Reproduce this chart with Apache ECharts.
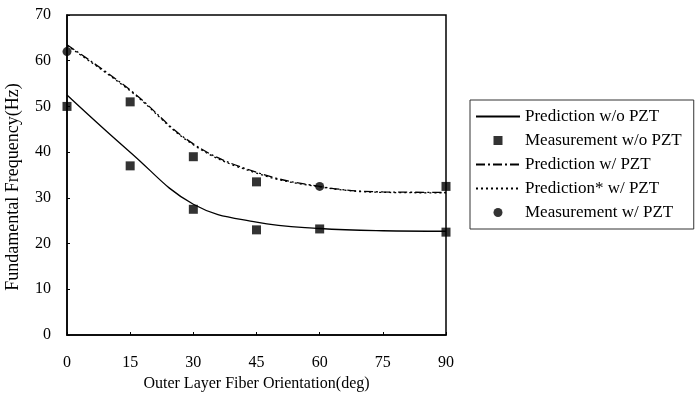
<!DOCTYPE html>
<html>
<head>
<meta charset="utf-8">
<script src="https://cdn.jsdelivr.net/npm/echarts@6/dist/echarts.min.js"></script>
<style>
    html, body { margin: 0; padding: 0; background: #fff; }
    #chart { width: 696px; height: 403px; }
</style>
</head>
<body>
<div id="chart"></div>
<script>
// fiber orientation (deg)
const angles = [0, 15, 30, 45, 60, 75, 90];
const measAngles = [0, 15, 30, 45, 60, 90];

// frequencies (Hz)
const predNoPzt = [52.5, 40.0, 28.6, 24.7, 23.3, 22.8, 22.7];
const measNoPzt = [50.0, 37.0, 27.5, 23.0, 23.2, 22.5];
const predPzt = [63.5, 53.6, 41.8, 35.6, 32.5, 31.3, 31.2];
const predStarPzt = [63.3, 53.4, 41.6, 35.4, 32.4, 31.2, 31.1];
const measPzt = [62.0, 51.0, 39.0, 33.5, 32.5, 32.5];

const yTicks = [0, 10, 20, 30, 40, 50, 60, 70];

const font = "Liberation Serif";
const pairs = (xs, ys) => xs.map((x, i) => [x, ys[i]]);
// line icons in the legend: hide the marker, keep the stroke
const lineItem = (name) => ({ name, itemStyle: { opacity: 0 } });

const chart = echarts.init(document.getElementById("chart"), null, { renderer: "canvas" });

const option = {
    animation: false,
    grid: {
        left: 67, top: 15, width: 379, height: 320,
        outerBoundsMode: "none",
        show: true, borderColor: "#000", borderWidth: 1.5,
    },
    legend: {
        orient: "vertical",
        left: 470, top: 100,
        padding: [8, 12, 8, 5],
        itemWidth: 44, itemHeight: 9, itemGap: 7,
        borderColor: "#333", borderWidth: 1,
        textStyle: { fontFamily: font, fontSize: 17, color: "#000" },
        data: [
            lineItem("Prediction w/o PZT"),
            { name: "Measurement w/o PZT", icon: "path://M0,0h10v10h-10z", itemStyle: { color: "#000" } },
            lineItem("Prediction w/ PZT"),
            lineItem("Prediction* w/ PZT"),
            { name: "Measurement w/ PZT", icon: "circle", itemStyle: { color: "#000" } },
        ],
    },
    xAxis: {
        type: "value", min: 0, max: 90, interval: 15,
        name: "Outer Layer Fiber Orientation(deg)",
        nameLocation: "middle", nameGap: 41,
        nameTextStyle: { fontFamily: font, fontSize: 16, color: "#000" },
        axisLine: { lineStyle: { color: "#000", width: 1.5 } },
        axisTick: { inside: true, length: 3, lineStyle: { color: "#000" } },
        axisLabel: { fontFamily: font, fontSize: 16, color: "#000", margin: 20 },
        splitLine: { show: false },
    },
    yAxis: {
        type: "value", min: yTicks[0], max: yTicks[yTicks.length - 1], interval: 10,
        name: "Fundamental Frequency(Hz)",
        nameLocation: "middle", nameGap: 45,
        nameTextStyle: { fontFamily: font, fontSize: 18, color: "#000", padding: [0, 24, 0, 0] },
        axisLine: { show: true, lineStyle: { color: "#000", width: 1.5 } },
        axisTick: { inside: true, length: 3, lineStyle: { color: "#000" } },
        axisLabel: { fontFamily: font, fontSize: 16, color: "#000", margin: 16 },
        splitLine: { show: false },
    },
    series: [
        {
            name: "Prediction w/o PZT", type: "line", smooth: 0.4,
            symbol: "none",
            lineStyle: { color: "#000", width: 1.3, type: "solid" },
            itemStyle: { color: "#000" },
            data: pairs(angles, predNoPzt),
        },
        {
            name: "Measurement w/o PZT", type: "scatter",
            symbol: "rect", symbolSize: 9,
            itemStyle: { color: "#000" },
            data: pairs(measAngles, measNoPzt),
        },
        {
            name: "Prediction w/ PZT", type: "line", smooth: 0.4,
            symbol: "none",
            lineStyle: { color: "#000", width: 1.3, type: [9, 3, 2, 3] },
            itemStyle: { color: "#000" },
            data: pairs(angles, predPzt),
        },
        {
            name: "Prediction* w/ PZT", type: "line", smooth: 0.4,
            symbol: "none",
            lineStyle: { color: "#000", width: 1.3, type: [2, 3] },
            itemStyle: { color: "#000" },
            data: pairs(angles, predStarPzt),
        },
        {
            name: "Measurement w/ PZT", type: "scatter",
            // some of the printed markers look square, the rest round
            symbol: (val, p) => ([0, 4].includes(p.dataIndex) ? "circle" : "rect"),
            symbolSize: 9,
            itemStyle: { color: "#000" },
            data: pairs(measAngles, measPzt),
        },
    ],
};

chart.setOption(option);
</script>
</body>
</html>
